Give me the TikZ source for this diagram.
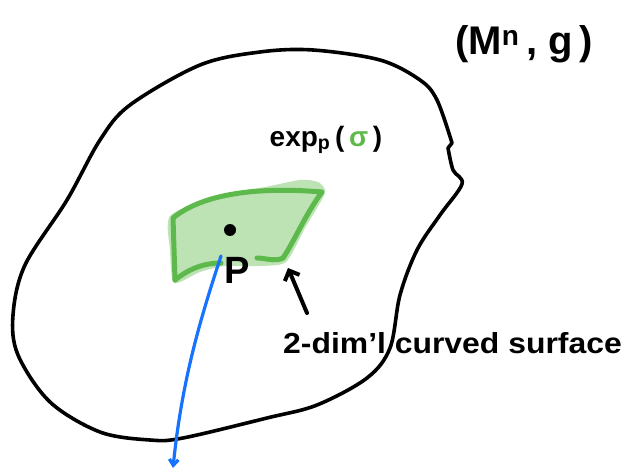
\documentclass[tikz,border=0pt]{standalone}
\usepackage{fontspec}
\setmainfont{Liberation Sans}
\usepackage{tikz}
\usetikzlibrary{arrows.meta,calc,positioning}
\definecolor{LeafFill}{HTML}{BDE3B5}
\definecolor{LeafLine}{HTML}{5DB94B}
\definecolor{Geo}{HTML}{1773FF}

\begin{document}
\begin{tikzpicture}[x=1pt,y=-1pt,
    hand/.style={line width=3.6pt,line cap=round,line join=round},
    rim/.style={LeafLine,line width=5pt,line cap=round,line join=round},
    scrawl/.style={font=\bfseries,inner sep=0pt}]
    \useasboundingbox (0,0) rectangle (626,470);
    % the manifold
    \draw[hand] plot[smooth,tension=0.55] coordinates {
      (448,148) (453,170) (462,184) (440,215) (417,250) (400,295)
      (390,348) (367,378) (317,405) (267,418) (183,438) (150,440)
      (100,432) (50,402) (18,355) (13,315) (25,265) (67,200)
      (100,140) (130,105) (200,65) (260,52) (313,50) (380,60)
      (420,80) (437,100) (452,143)} -- cycle;
    % the surface piece
    \fill[LeafFill] plot[smooth cycle,tension=0.4] coordinates {
      (170,216) (215,196) (265,187) (300,180) (318,182) (325,193)
      (305,228) (286,262) (260,266) (225,266) (200,272) (174,283)
      (170,250)};
    \coordinate (tl) at (173,218);
    \coordinate (tr) at (322,192);
    \coordinate (br) at (283,258);
    \coordinate (bl) at (175,280);
    \coordinate (bm) at (257,258);
    \coordinate (bs) at (221,263);
    \draw[rim] (bl) -- (tl) .. controls (200,196) and (250,186) .. (tr)
      .. controls (305,215) and (295,240) .. (br);
    \draw[rim] (br) .. controls (275,262) and (265,258) .. (bm);
    \draw[rim] (bs) .. controls (205,263) and (190,268) .. (bl);
    \node[circle,fill,inner sep=0pt,minimum size=12pt] (p) at (230,230) {};
    \node[scrawl,font=\fontsize{38}{38}\selectfont\bfseries] (plabel) at (237,270) {P};
    % geodesic leaving p
    \coordinate (gstart) at (221,256);
    \coordinate (gend) at (173,468);
    \draw[Geo,line width=3.2pt,line cap=round,-{Straight Barb[length=6pt,width=9pt]}]
      (gstart) .. controls (200,320) and (182,380) .. (gend);
    % labels
    \node[scrawl,font=\fontsize{40}{44}\selectfont\bfseries] (mfd) at (524,44)
      {(M\textsuperscript{n}\,, g\,)};
    \node[scrawl,font=\fontsize{28}{32}\selectfont\bfseries] (img) at (326,140)
      {exp\textsubscript{p}\,(\,\textcolor{LeafLine}{σ}\,)};
    \node[scrawl,font=\fontsize{29}{32}\selectfont\bfseries,anchor=west] (surf) at (283,343)
      {\scalebox{1.1}[1]{2-dim'l curved surface}};
    \coordinate (tail) at (307,313);
    \coordinate (head) at (288,268);
    \draw[hand,line width=4pt,-{Straight Barb[length=8pt,width=16pt]}] (tail) -- (head);
  \end{tikzpicture}
\end{document}
